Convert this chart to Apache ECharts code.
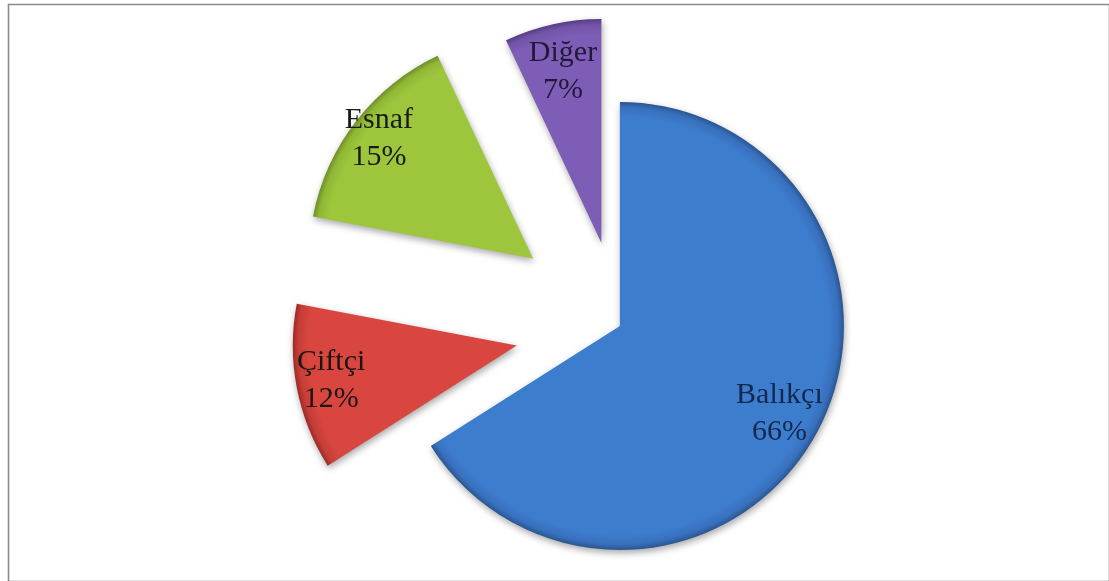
<!DOCTYPE html>
<html>
<head>
<meta charset="utf-8">
<script src="https://cdn.jsdelivr.net/npm/echarts@6/dist/echarts.min.js"></script>
<style>
  html, body { margin: 0; padding: 0; background: #ffffff; }
  #chart { width: 1109px; height: 581px; }
</style>
</head>
<body>
<div id="chart"></div>
<script>
// Occupation shares of respondents (percent)
const categories = ['Balıkçı', 'Çiftçi', 'Esnaf', 'Diğer'];
const shares = [66, 12, 15, 7];

// ---- styling ----
// how far each slice is pulled out of the pie (px)
const EXPLODE_PX = [0, 105, 110, 85];
// distance of each label from its slice's apex (px)
const LABEL_DIST = [179, 186, 192, 173];
// slice shading: body, inner rim, outer rim
const palette = [
  ['#3d7dce', '#3870bd', '#2a5590'],
  ['#d8463f', '#c63d37', '#9c2b27'],
  ['#9dc63c', '#90b735', '#6f8f27'],
  ['#7d5db5', '#7254a8', '#553c85']
];
const labelColors = ['#14284e', '#1d1414', '#1a1a1a', '#24183a'];
const FONT = '"Liberation Serif", "DejaVu Serif", serif';

const el = document.getElementById('chart');
const chart = echarts.init(el, null, { renderer: 'canvas' });

const W = el.clientWidth, H = el.clientHeight;
const CX = W * 0.559, CY = H * 0.561;
const R = 224;
const CLEAR = 'rgba(0,0,0,0)';

function shade(i) {
  return {
    type: 'radial', x: CX, y: CY, r: R, global: true,
    colorStops: [
      { offset: 0, color: palette[i][0] },
      { offset: 0.93, color: palette[i][0] },
      { offset: 0.975, color: palette[i][1] },
      { offset: 1, color: palette[i][2] }
    ]
  };
}

const base = {
  type: 'pie',
  center: [CX, CY],
  startAngle: 90,
  clockwise: true,
  selectedMode: 'multiple',
  avoidLabelOverlap: false,
  labelLine: { show: false },
  emphasis: { disabled: true }
};

const series = [];
categories.forEach((_, k) => {
  // the slice itself (the other slices of this layer stay invisible)
  series.push(Object.assign({}, base, {
    radius: [0, R],
    selectedOffset: EXPLODE_PX[k],
    label: { show: false },
    select: { itemStyle: { borderWidth: 0 } },
    data: categories.map((name, i) => ({
      name,
      value: shares[i],
      selected: EXPLODE_PX[k] > 0,
      itemStyle: i === k ? {
        color: shade(i),
        borderWidth: 0,
        shadowBlur: 7,
        shadowColor: 'rgba(0,0,0,0.35)',
        shadowOffsetX: 1,
        shadowOffsetY: 3
      } : { color: CLEAR, borderWidth: 0 },
      select: { itemStyle: i === k ? { color: shade(i) } : { color: CLEAR } }
    })),
    z: 2
  }));
  // transparent ring carrying this slice's label
  series.push(Object.assign({}, base, {
    silent: true,
    radius: [LABEL_DIST[k] - 10, LABEL_DIST[k] + 10],
    selectedOffset: EXPLODE_PX[k],
    itemStyle: { color: CLEAR, borderWidth: 0 },
    select: { itemStyle: { color: CLEAR, borderWidth: 0 } },
    label: {
      show: true,
      position: 'inside',
      formatter: '{b}\n{c}%',
      fontFamily: FONT,
      fontSize: 30,
      lineHeight: 37,
      align: 'center'
    },
    data: categories.map((name, i) => ({
      name,
      value: shares[i],
      selected: EXPLODE_PX[k] > 0,
      label: { show: i === k, color: labelColors[i] }
    })),
    z: 3
  }));
});

chart.setOption({
  animation: false,
  backgroundColor: '#ffffff',
  graphic: [{
    type: 'rect',
    left: 6, top: 2,
    shape: { width: W - 8, height: H - 4 },
    style: { fill: 'none', stroke: '#8a8a8a', lineWidth: 1.6 },
    silent: true,
    z: 0
  }],
  series
});
</script>
</body>
</html>
